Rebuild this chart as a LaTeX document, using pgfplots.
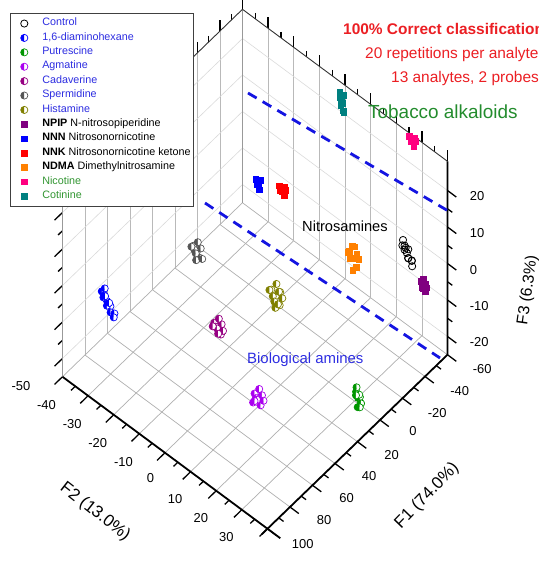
\documentclass[border=0pt]{standalone}
\usepackage{pgfplots}
\pgfplotsset{compat=1.18}
\usetikzlibrary{plotmarks}
\usepackage{fontspec}
\setmainfont{Liberation Sans}
\definecolor{cDAH}{RGB}{0,0,255}
\definecolor{cPut}{RGB}{0,150,0}
\definecolor{cAgm}{RGB}{170,0,240}
\definecolor{cCad}{RGB}{150,0,130}
\definecolor{cSpe}{RGB}{85,85,85}
\definecolor{cHis}{RGB}{128,128,0}
\definecolor{cNPIP}{RGB}{128,0,128}
\definecolor{cNNN}{RGB}{0,0,255}
\definecolor{cNNK}{RGB}{255,0,0}
\definecolor{cNDMA}{RGB}{255,128,0}
\definecolor{cNic}{RGB}{255,0,128}
\definecolor{cCot}{RGB}{0,128,128}
\definecolor{legBlue}{RGB}{45,45,225}
\definecolor{legGreen}{RGB}{50,150,50}
\definecolor{txtRed}{RGB}{235,30,35}
\definecolor{txtGreen}{RGB}{35,140,45}
\definecolor{dashBlue}{RGB}{20,20,225}
\definecolor{floorGrid}{RGB}{175,175,175}
\definecolor{wallV}{RGB}{185,185,185}
\definecolor{wallH}{RGB}{218,218,218}
\begin{document}
\begin{tikzpicture}
\useasboundingbox (0,0) rectangle (539bp,562bp);
\begin{axis}[
  at={(303.1bp,290.25bp)}, anchor=origin,
  x={(-1.125bp,-1.0875bp)}, y={(2.5625bp,-1.9bp)}, z={(0bp,3.65bp)},
  xmin=-60, xmax=100, ymin=-50, ymax=30, zmin=-25, zmax=28,
  xtick={-60,-40,...,100}, ytick={-50,-40,...,30}, ztick={-20,-10,...,20},
  minor x tick num=1, minor y tick num=1, minor z tick num=1,
  xtick pos=right, ytick pos=right, ztick pos=right,
  xticklabel pos=left, yticklabel pos=left, zticklabel pos=right,
  tick align=outside, major tick length=11bp, minor tick length=6bp,
  tick style={black, line width=1.3bp},
  axis line style={draw=none},
  clip=false,
  ticklabel style={font=\fontsize{13}{13}\selectfont},
  xticklabel style={xshift=19bp, yshift=6bp},
  yticklabel style={xshift=-28bp, yshift=12bp},
  zticklabel style={xshift=10bp},
  /pgf/number format/assume math mode=true,
  legend cell align=left,
  legend image code/.code={\path[draw=none, fill=none] (0bp,0bp) -- (22bp,0bp); \draw[#1] plot coordinates {(11bp,0bp)};},
  legend style={at={(-0.1364,0.9929)}, anchor=north west, draw=black!75, line width=0.7bp, fill=white,
    font=\fontsize{10.8}{12}\selectfont, inner xsep=3bp, inner ysep=3bp, row sep=0bp, column sep=7bp,
    nodes={inner sep=0bp, text height=9.4bp, text depth=5bp}},
]
% ---- grid on the floor and on the two back walls
\pgfplotsinvokeforeach{-60,-40,-20,0,20,40,60,80,100}{
  \draw[floorGrid, line width=0.7bp] (axis cs:#1,-50,-25) -- (axis cs:#1,30,-25);
  \draw[wallV, line width=0.6bp] (axis cs:#1,-50,-25) -- (axis cs:#1,-50,28);
}
\pgfplotsinvokeforeach{-50,-40,-30,-20,-10,0,10,20,30}{
  \draw[floorGrid, line width=0.7bp] (axis cs:-60,#1,-25) -- (axis cs:100,#1,-25);
  \draw[wallV, line width=0.6bp] (axis cs:-60,#1,-25) -- (axis cs:-60,#1,28);
}
\pgfplotsinvokeforeach{-20,-10,0,10,20}{
  \draw[wallH, line width=0.6bp] (axis cs:100,-50,#1) -- (axis cs:-60,-50,#1) -- (axis cs:-60,30,#1);
}
% Control
\addplot3[only marks, mark=o, mark size=3.6bp, mark options={draw=black, line width=0.8bp}] coordinates {
(-40.3,22.8,5.0) (-39.5,21.4,6.6) (-41.2,20.9,7.3) (-40.8,22.1,5.9) (-39.8,23.6,4.1) (-41.5,24.2,3.2)
(-40.0,25.0,2.6) (-38.9,23.9,4.6) (-42.0,22.6,5.4) (-40.6,24.6,3.8) (-39.2,22.4,6.0) (-41.0,21.6,6.2)};
\addlegendentry{\textcolor{legBlue}{Control}}
% 1,6-diaminohexane
\addplot3[only marks, mark=halfcircle*, mark size=3.6bp, mark options={rotate=90, draw=cDAH, fill=cDAH, line width=0.7bp}] coordinates {
(90.9,-36.6,0.0) (91.5,-38.4,1.9) (89.8,-38.0,2.4) (92.3,-37.4,1.0) (90.2,-35.6,-1.1) (91.8,-34.8,-1.9)
(89.6,-34.3,-2.6) (92.6,-35.9,-0.4) (90.5,-37.8,0.8) (91.1,-33.9,-3.0) (89.9,-36.2,-0.6) (92.0,-36.9,1.5)};
\addlegendentry{\textcolor{legBlue}{1,6-diaminohexane}}
% Putrescine
\addplot3[only marks, mark=halfcircle*, mark size=3.6bp, mark options={rotate=90, draw=cPut, fill=cPut, line width=0.7bp}] coordinates {
(10.3,26.0,-18.0) (11.2,25.6,-16.2) (9.4,26.7,-19.4) (10.8,26.9,-17.1) (9.9,25.2,-15.6)
(11.6,26.4,-19.9) (8.9,25.8,-17.6) (10.5,27.2,-18.8) (12.0,25.9,-16.8) (9.6,26.3,-20.6)};
\addlegendentry{\textcolor{legBlue}{Putrescine}}
% Agmatine
\addplot3[only marks, mark=halfcircle*, mark size=3.6bp, mark options={rotate=90, draw=cAgm, fill=cAgm, line width=0.7bp}] coordinates {
(48.9,3.9,-18.0) (50.2,3.1,-16.8) (47.5,4.8,-17.2) (49.6,5.2,-19.1) (48.1,2.7,-18.9)
(51.0,4.4,-17.6) (47.0,3.5,-16.3) (49.9,2.4,-19.7) (48.4,5.8,-17.9) (50.7,3.3,-18.6)};
\addlegendentry{\textcolor{legBlue}{Agmatine}}
% Cadaverine
\addplot3[only marks, mark=halfcircle*, mark size=3.6bp, mark options={rotate=90, draw=cCad, fill=cCad, line width=0.7bp}] coordinates {
(52.1,-10.3,-5.0) (53.4,-11.2,-3.9) (50.8,-9.5,-4.2) (52.8,-8.9,-6.1) (51.3,-11.6,-5.8)
(54.0,-9.9,-4.6) (50.3,-10.8,-3.5) (53.0,-12.0,-5.4) (51.6,-8.6,-5.3) (52.5,-10.1,-6.6)};
\addlegendentry{\textcolor{legBlue}{Cadaverine}}
% Spermidine
\addplot3[only marks, mark=halfcircle*, mark size=3.6bp, mark options={rotate=90, draw=cSpe, fill=cSpe, line width=0.7bp}] coordinates {
(39.6,-24.0,5.0) (40.8,-24.9,6.3) (38.4,-23.1,5.8) (40.2,-22.6,4.0) (38.9,-25.3,4.4)
(41.3,-23.6,3.2) (37.8,-24.5,6.6) (40.5,-25.8,5.5) (39.1,-22.2,3.6) (41.0,-23.9,4.8)};
\addlegendentry{\textcolor{legBlue}{Spermidine}}
% Histamine
\addplot3[only marks, mark=halfcircle*, mark size=3.6bp, mark options={rotate=90, draw=cHis, fill=cHis, line width=0.7bp}] coordinates {
(23.1,-0.5,0.0) (24.6,-1.6,1.6) (21.7,0.6,1.2) (23.8,1.3,-1.4) (22.4,-2.0,-1.1) (25.1,0.2,-2.3)
(21.2,-1.1,2.4) (24.0,-2.6,0.8) (22.6,1.8,0.4) (24.9,-0.3,-0.9) (21.9,-0.2,-2.5) (23.5,0.9,2.0)};
\addlegendentry{\textcolor{legBlue}{Histamine}}
% NPIP
\addplot3[only marks, mark=square*, mark size=2.8bp, mark options={draw=cNPIP, fill=cNPIP}] coordinates {
(-48.4,25.6,-5.0) (-47.6,25.0,-3.8) (-49.2,26.2,-4.4) (-48.0,26.6,-5.9) (-49.0,24.9,-6.0)
(-47.3,26.0,-5.2) (-48.8,25.4,-3.3) (-48.1,27.0,-4.6)};
\addlegendentry{\textbf{NPIP} N-nitrosopiperidine}
% NNN
\addplot3[only marks, mark=square*, mark size=2.8bp, mark options={draw=cNNN, fill=cNNN}] coordinates {
(0.2,-17.5,15.0) (0.9,-18.1,16.2) (-0.6,-17.0,16.0) (0.5,-16.8,13.9) (-0.3,-18.3,14.3)
(1.2,-17.2,15.4) (-0.9,-17.8,13.6) (0.4,-16.5,16.6)};
\addlegendentry{\textbf{NNN} Nitrosonornicotine}
% NNK
\addplot3[only marks, mark=square*, mark size=2.8bp, mark options={draw=cNNK, fill=cNNK}] coordinates {
(-5.9,-10.8,15.0) (-5.0,-11.6,16.1) (-6.8,-10.1,15.8) (-5.5,-9.9,14.0) (-6.4,-11.7,14.2)
(-4.8,-10.4,15.2) (-7.0,-11.0,14.6) (-5.7,-9.6,15.6)};
\addlegendentry{\textbf{NNK} Nitrosonornicotine ketone}
% NDMA
\addplot3[only marks, mark=square*, mark size=2.8bp, mark options={draw=cNDMA, fill=cNDMA}] coordinates {
(-26.4,7.9,0.0) (-25.2,7.0,1.8) (-27.7,8.8,1.2) (-25.9,9.4,-1.5) (-27.1,6.5,-1.0) (-24.8,8.5,-2.6)
(-28.2,7.6,2.4) (-26.0,6.2,0.8) (-27.0,9.9,0.5) (-25.5,8.2,-3.0) (-26.8,7.4,3.0)};
\addlegendentry{\textbf{NDMA} Dimethylnitrosamine}
% Nicotine
\addplot3[only marks, mark=square*, mark size=2.8bp, mark options={draw=cNic, fill=cNic}] coordinates {
(-58.0,17.0,27.5) (-57.2,16.4,28.6) (-58.8,17.6,28.2) (-57.6,17.8,26.5) (-58.6,16.2,26.8)
(-56.9,17.3,27.7) (-59.2,16.9,27.0) (-58.2,18.2,27.9)};
\addlegendentry{\textcolor{legGreen}{Nicotine}}
% Cotinine
\addplot3[only marks, mark=square*, mark size=2.8bp, mark options={draw=cCot, fill=cCot}] coordinates {
(-55.3,-9.1,25.0) (-54.6,-9.6,26.6) (-56.0,-8.7,27.2) (-55.0,-8.4,23.4) (-55.8,-9.8,23.9)
(-54.4,-8.9,25.8) (-56.3,-9.3,24.4) (-55.1,-9.9,27.8) (-55.6,-8.5,22.8)};
\addlegendentry{\textcolor{legGreen}{Cotinine}}
% ---- box edges
\draw[gray!80, line width=0.7bp] (axis cs:100,-50,-25) -- (axis cs:100,-50,28);
\draw[gray!80, line width=0.7bp] (axis cs:-60,-50,-25) -- (axis cs:-60,-50,28);
\draw[black!80, line width=0.9bp] (axis cs:100,-50,28) -- (axis cs:-60,-50,28) -- (axis cs:-60,30,28);
\draw[black, line width=1.8bp] (axis cs:100,-50,-25) -- (axis cs:100,35,-25);
\draw[black, line width=1.8bp] (axis cs:105,30,-25) -- (axis cs:-60,30,-25) -- (axis cs:-60,30,28);
\end{axis}
\draw[dashBlue, line width=2.8bp, dash pattern=on 10bp off 7bp] (248bp,469bp) -- (450bp,350bp);
\draw[dashBlue, line width=2.8bp, dash pattern=on 10bp off 7bp] (205bp,359bp) -- (440bp,204bp);
\node[rotate=46, font=\fontsize{17}{17}\selectfont, inner sep=0pt] at (427bp,66bp) {F1 (74.0\%)};
\node[rotate=-38, font=\fontsize{17}{17}\selectfont, inner sep=0pt] at (95bp,50bp) {F2 (13.0\%)};
\node[rotate=82, font=\fontsize{16}{16}\selectfont, inner sep=0pt] at (528bp,272bp) {F3 (6.3\%)};
\node[anchor=base west, inner sep=0pt, text=txtRed, font=\bfseries\fontsize{15.5}{16}\selectfont] at (343bp,527bp) {100\% Correct classification};
\node[anchor=base west, inner sep=0pt, text=txtRed, font=\fontsize{15.5}{16}\selectfont] at (365bp,503bp) {20 repetitions per analyte};
\node[anchor=base west, inner sep=0pt, text=txtRed, font=\fontsize{15.5}{16}\selectfont] at (391bp,479bp) {13 analytes, 2 probes};
\node[anchor=base west, inner sep=0pt, text=txtGreen, font=\fontsize{19}{19}\selectfont] at (368bp,443bp) {Tobacco alkaloids};
\node[anchor=base west, inner sep=0pt, font=\fontsize{14.7}{15}\selectfont] at (302bp,330bp) {Nitrosamines};
\node[anchor=base west, inner sep=0pt, text=legBlue, font=\fontsize{15}{15}\selectfont] at (247bp,198bp) {Biological amines};
\end{tikzpicture}
\end{document}
